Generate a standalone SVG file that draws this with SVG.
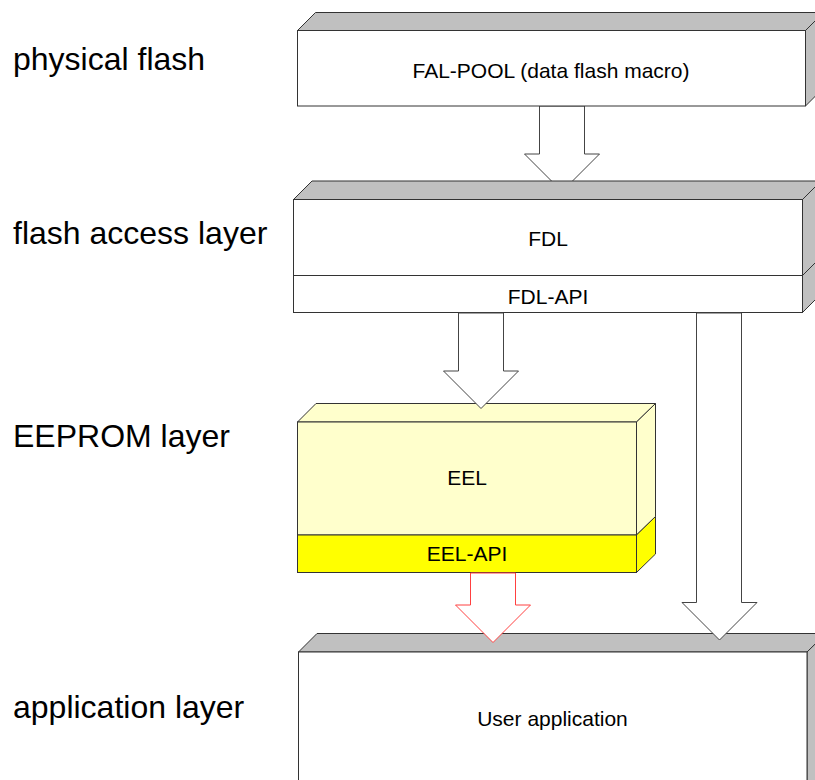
<svg xmlns="http://www.w3.org/2000/svg" width="815" height="780" viewBox="0 0 815 780">
<style>
.lbl{font-family:"Liberation Sans",Arial,sans-serif;font-size:32px;fill:#000}
.t{font-family:"Liberation Sans",Arial,sans-serif;font-size:21px;fill:#000;text-anchor:middle}
.g{fill:#c0c0c0;stroke:#333;stroke-width:1}
.w{fill:#fff;stroke:#333;stroke-width:1}
.ly{fill:#ffffcc;stroke:#333;stroke-width:1}
.y{fill:#ffff00;stroke:#333;stroke-width:1}
.arr{fill:#fff;stroke:#444;stroke-width:1}
.red{fill:#fff;stroke:#ff4040;stroke-width:1}
</style>
<rect width="815" height="780" fill="#fff"/>
<g id="labels">
<text class="lbl" x="13" y="70">physical flash</text>
<text class="lbl" x="13" y="244">flash access layer</text>
<text class="lbl" x="13" y="447">EEPROM layer</text>
<text class="lbl" x="13" y="718">application layer</text>
</g>
<g id="connectors-back">
<polygon class="arr" points="539.5,106 584.5,106 584.5,154 599.5,154 562,191.5 524.5,154 539.5,154"/>
</g>
<g id="fal-pool">
<polygon class="g" points="297.5,30.5 315.5,12.5 823.5,12.5 805.5,30.5"/>
<polygon class="g" points="805.5,30.5 823.5,12.5 823.5,88 805.5,106"/>
<rect class="w" x="297.5" y="30.5" width="508" height="75.5"/>
<text class="t" x="551" y="77.5">FAL-POOL (data flash macro)</text>
</g>
<g id="fdl">
<polygon class="g" points="293.5,199.5 312,181 821,181 802.5,199.5"/>
<polygon class="g" points="802.5,199.5 821,181 821,294 802.5,312.5"/>
<line x1="802.5" y1="275.5" x2="821" y2="257" stroke="#333"/>
<rect class="w" x="293.5" y="199.5" width="509" height="76"/>
<rect class="w" x="293.5" y="275.5" width="509" height="37"/>
<text class="t" x="548" y="245.5">FDL</text>
<text class="t" x="548" y="304">FDL-API</text>
</g>
<g id="eel">
<polygon class="ly" points="297.5,422 316,403.5 655.5,403.5 636.5,422"/>
<polygon class="ly" points="636.5,422 655.5,403.5 655.5,516.5 636.5,535"/>
<polygon class="y" points="636.5,535 655.5,516.5 655.5,554 636.5,572.5"/>
<rect class="ly" x="297.5" y="422" width="339" height="113"/>
<rect class="y" x="297.5" y="535" width="339" height="37.5"/>
<text class="t" x="467" y="485">EEL</text>
<text class="t" x="467" y="560.5">EEL-API</text>
</g>
<g id="user-app">
<polygon class="g" points="298.5,652 317,633.5 826,633.5 807,652"/>
<polygon class="g" points="807,652 826,633.5 826,800 807,800"/>
<rect class="w" x="298.5" y="652" width="508.5" height="150"/>
<text class="t" x="552.5" y="725.5">User application</text>
</g>
<g id="connectors">
<polygon class="arr" points="458.5,313 503.5,313 503.5,371 518.5,371 481,408.5 443.5,371 458.5,371"/>
<polygon class="red" points="470.5,573 515.5,573 515.5,605 530.5,605 493,642.5 455.5,605 470.5,605"/>
<polygon class="arr" points="696.5,313 741.5,313 741.5,602.5 757,602.5 719.5,640 682,602.5 696.5,602.5"/>
</g>
</svg>
